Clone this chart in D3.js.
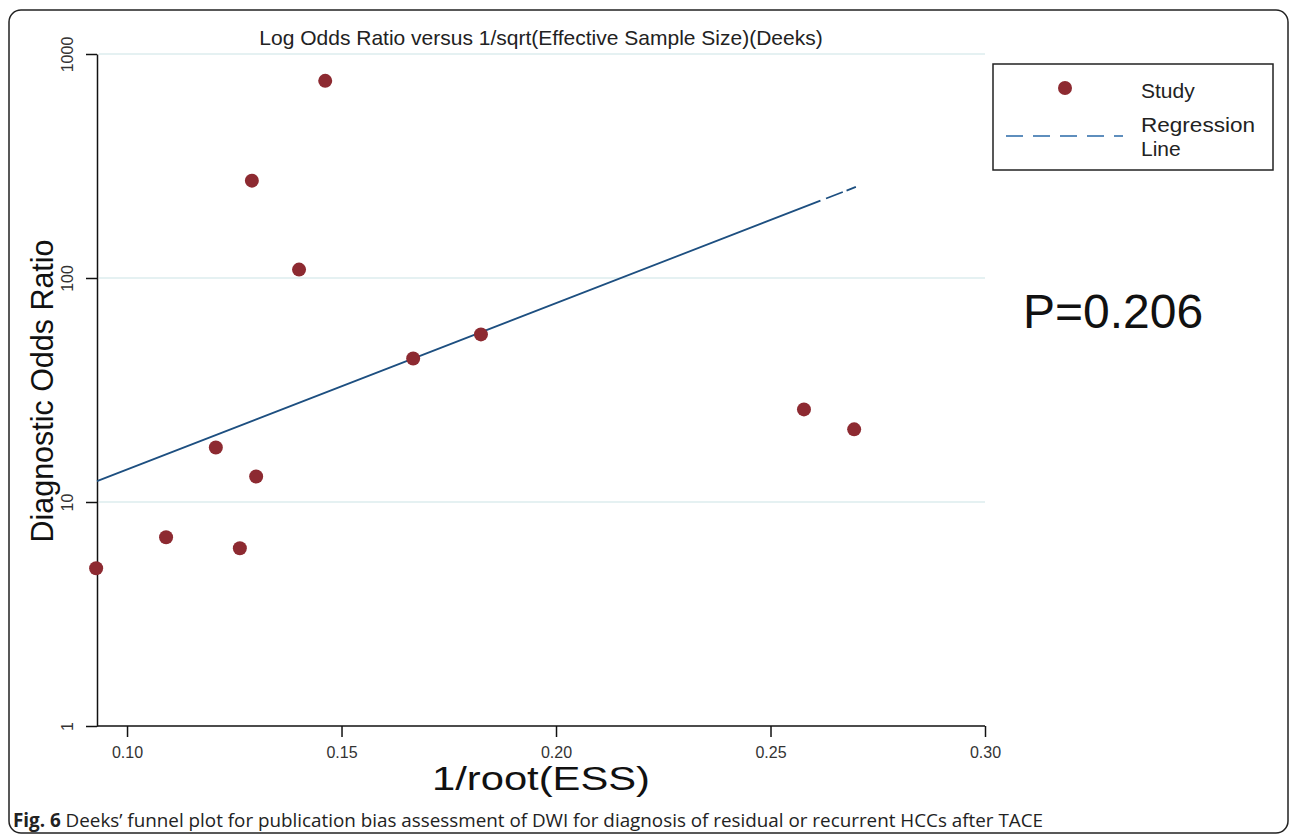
<!DOCTYPE html>
<html lang="en">
<head>
<meta charset="UTF-8">
<title>Deeks' funnel plot</title>
<script src="https://d3js.org/d3.v7.min.js"></script>
<style>
    body { margin: 0; background: #fff; font-family: Arial, "Liberation Sans", sans-serif; }
    svg { display: block; }
    .tick text { font-family: Arial, "Liberation Sans", sans-serif; fill: #333; font-size: 16px; }
</style>
</head>
<body>
<svg width="1290" height="835"></svg>
<script>
// study points (1/root(ESS), diagnostic odds ratio)
const essX = [0.0928, 0.1091, 0.1207, 0.1263, 0.1291, 0.1301, 0.1401, 0.1462, 0.1667, 0.1825, 0.2578, 0.2695];
const dorY = [5.06, 6.96, 17.5, 6.22, 272, 13.0, 109, 759, 43.7, 56, 25.9, 21.1];
// regression line endpoints
const regX = [0.093, 0.2699];
const regY = [12.4, 255];
const xTicks = [0.10, 0.15, 0.20, 0.25, 0.30];
const yTicks = [1, 10, 100, 1000];
const pValue = "P=0.206";

const svg = d3.select("svg");

// outer frame
svg.append("rect")
    .attr("x", 9).attr("y", 10)
    .attr("width", 1279).attr("height", 823)
    .attr("rx", 12)
    .attr("fill", "none").attr("stroke", "#222").attr("stroke-width", 1.5);

const margin = { left: 97, right: 985, top: 54, bottom: 726 };

const x = d3.scaleLinear().domain([0.093, 0.30]).range([margin.left, margin.right]);
const y = d3.scaleLog().domain([1, 1000]).range([margin.bottom, margin.top]);

// gridlines
svg.append("g").selectAll("line")
    .data(yTicks.filter(d => d > 1))
    .enter().append("line")
    .attr("x1", margin.left + 2).attr("x2", margin.right)
    .attr("y1", d => y(d)).attr("y2", d => y(d))
    .attr("stroke", "#dcecee").attr("stroke-width", 1.5);

// axes
const gx = svg.append("g")
    .attr("transform", `translate(0,${margin.bottom})`)
    .call(d3.axisBottom(x).tickValues(xTicks).tickFormat(d3.format(".2f")).tickSize(11).tickSizeOuter(0));
gx.attr("font-size", null);
gx.select(".domain").attr("stroke", "#111").attr("stroke-width", 1.5).attr("d", `M${margin.left},0H${margin.right}`);
gx.selectAll(".tick line").attr("stroke", "#111").attr("stroke-width", 1.5);
gx.selectAll(".tick text").attr("y", 21);

const gy = svg.append("g")
    .attr("transform", `translate(${margin.left},0)`)
    .call(d3.axisLeft(y).tickValues(yTicks).tickFormat(d3.format("d")).tickSize(11).tickSizeOuter(0));
gy.attr("font-size", null);
gy.select(".domain").attr("stroke", "#111").attr("stroke-width", 1.5);
gy.selectAll(".tick line").attr("stroke", "#111").attr("stroke-width", 1.5);
gy.selectAll(".tick text")
    .attr("x", 0).attr("y", 0).attr("dy", 0)
    .attr("text-anchor", "middle")
    .attr("transform", "translate(-24,0) rotate(-90)");

// regression line
const line = d3.line().x(d => x(d[0])).y(d => y(d[1]));
const reg = svg.append("path")
    .datum(d3.zip(regX, regY))
    .attr("d", line)
    .attr("fill", "none")
    .attr("stroke", "#1d4f80")
    .attr("stroke-width", 1.8);
const L = reg.node().getTotalLength();
reg.attr("stroke-dasharray", `${L - 38} 6 18 4 12`);

// points
svg.append("g").selectAll("circle")
    .data(d3.zip(essX, dorY))
    .enter().append("circle")
    .attr("cx", d => x(d[0]))
    .attr("cy", d => y(d[1]))
    .attr("r", 7)
    .attr("fill", "#8d2a31");

// title and axis labels
svg.append("text")
    .attr("x", 541).attr("y", 45)
    .attr("text-anchor", "middle")
    .attr("font-size", 21).attr("fill", "#222")
    .text("Log Odds Ratio versus 1/sqrt(Effective Sample Size)(Deeks)");

svg.append("text")
    .attr("x", 541).attr("y", 790)
    .attr("text-anchor", "middle")
    .attr("font-size", 33).attr("fill", "#111")
    .attr("textLength", 218).attr("lengthAdjust", "spacingAndGlyphs")
    .text("1/root(ESS)");

svg.append("text")
    .attr("transform", "translate(53,391) rotate(-90)")
    .attr("text-anchor", "middle")
    .attr("font-size", 31).attr("fill", "#111")
    .attr("textLength", 303).attr("lengthAdjust", "spacingAndGlyphs")
    .text("Diagnostic Odds Ratio");

// legend
const lg = svg.append("g");
lg.append("rect")
    .attr("x", 993).attr("y", 64).attr("width", 280).attr("height", 106)
    .attr("fill", "#fff").attr("stroke", "#222").attr("stroke-width", 1.5);
lg.append("circle").attr("cx", 1065).attr("cy", 88).attr("r", 7).attr("fill", "#8d2a31");
lg.append("line")
    .attr("x1", 1006).attr("x2", 1123).attr("y1", 136).attr("y2", 136)
    .attr("stroke", "#2a6aa8").attr("stroke-width", 1.5)
    .attr("stroke-dasharray", "17 10");
lg.append("text").attr("x", 1141).attr("y", 98).attr("font-size", 21).attr("fill", "#222").text("Study");
lg.append("text").attr("x", 1141).attr("y", 132).attr("font-size", 21).attr("fill", "#222")
    .attr("textLength", 114).attr("lengthAdjust", "spacingAndGlyphs").text("Regression");
lg.append("text").attr("x", 1141).attr("y", 156).attr("font-size", 21).attr("fill", "#222").text("Line");

// p value
svg.append("text")
    .attr("x", 1023).attr("y", 328)
    .attr("font-size", 48).attr("fill", "#111")
    .text(pValue);

// caption
const cap = svg.append("text")
    .attr("x", 13).attr("y", 827)
    .attr("font-family", "'Open Sans', 'Noto Sans', sans-serif")
    .attr("font-size", 19).attr("fill", "#222")
    .attr("textLength", 1030).attr("lengthAdjust", "spacingAndGlyphs");
cap.append("tspan").attr("font-weight", "bold").text("Fig. 6");
cap.append("tspan").text(" Deeks’ funnel plot for publication bias assessment of DWI for diagnosis of residual or recurrent HCCs after TACE");
</script>
</body>
</html>
